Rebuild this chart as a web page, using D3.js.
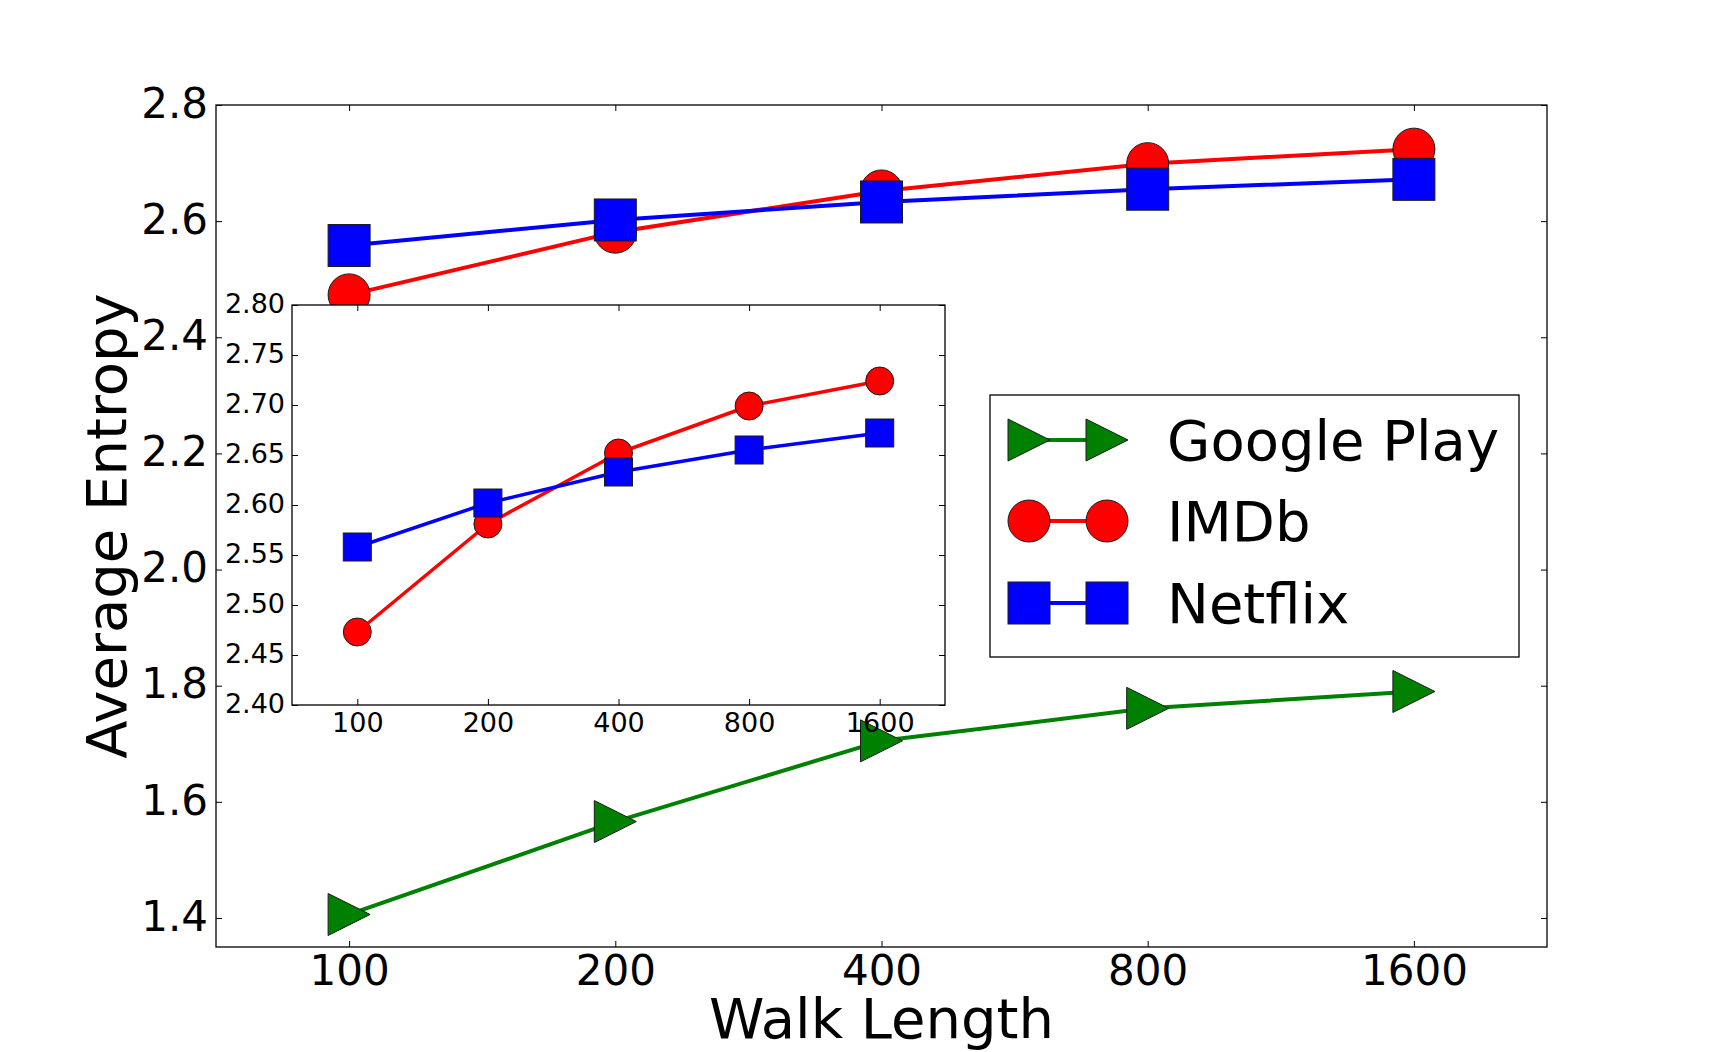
<!DOCTYPE html>
<html>
<head>
<meta charset="utf-8">
<script src="https://cdnjs.cloudflare.com/ajax/libs/d3/7.8.5/d3.min.js"></script>
<style>
  body { margin: 0; background: #fff; }
  svg text { font-family: "DejaVu Sans", sans-serif; fill: #000; }
</style>
</head>
<body>
<svg id="chart" width="1718" height="1052"></svg>
<script>
// data
const walkLengths = ["100", "200", "400", "800", "1600"];
const googlePlay = [1.406, 1.566, 1.705, 1.761, 1.790];
const imdb = [2.473, 2.581, 2.652, 2.699, 2.724];
const netflix = [2.558, 2.602, 2.633, 2.655, 2.672];

const mainTicks = [1.4, 1.6, 1.8, 2.0, 2.2, 2.4, 2.6, 2.8];
const insetTicks = [2.40, 2.45, 2.50, 2.55, 2.60, 2.65, 2.70, 2.75, 2.80];

const series = [
    { name: "Google Play", values: googlePlay, color: "#008000", shape: "tri", inset: false },
    { name: "IMDb", values: imdb, color: "#ff0000", shape: "circle", inset: true },
    { name: "Netflix", values: netflix, color: "#0000ff", shape: "square", inset: true }
];

const svg = d3.select("#chart");

const mainBox = { left: 216, right: 1547, top: 105, bottom: 947 };
const insetBox = { left: 292, right: 945, top: 305, bottom: 705 };

const x = d3.scalePoint().domain(walkLengths).range([mainBox.left, mainBox.right]).padding(0.5);
const y = d3.scaleLinear().domain([1.35, 2.8]).range([mainBox.bottom, mainBox.top]);

const xi = d3.scalePoint().domain(walkLengths).range([insetBox.left, insetBox.right]).padding(0.5);
const yi = d3.scaleLinear().domain([2.40, 2.80]).range([insetBox.bottom, insetBox.top]);

function marker(g, shape, cx, cy, s, color) {
    let el;
    if (shape === "circle") {
        el = g.append("circle").attr("cx", cx).attr("cy", cy).attr("r", s / 2);
    } else if (shape === "square") {
        el = g.append("rect").attr("x", cx - s / 2).attr("y", cy - s / 2).attr("width", s).attr("height", s);
    } else {
        el = g.append("path").attr("d", `M${cx + s / 2},${cy}L${cx - s / 2},${cy - s / 2}L${cx - s / 2},${cy + s / 2}Z`);
    }
    el.attr("fill", color).attr("stroke", "#1a1a1a").attr("stroke-width", 1);
}

function drawSeries(g, list, xs, ys, size, lw) {
    const line = d3.line().x((d, i) => xs(walkLengths[i])).y(d => ys(d));
    for (const s of list) {
        g.append("path").attr("d", line(s.values)).attr("fill", "none")
            .attr("stroke", s.color).attr("stroke-width", lw).attr("stroke-linejoin", "round");
    }
    for (const s of list) {
        s.values.forEach((v, i) => marker(g, s.shape, xs(walkLengths[i]), ys(v), size, s.color));
    }
}

function frame(g, xs, ys, box, ticks, fmt, fs, padY, padX) {
    const style = sel => {
        sel.select(".domain").remove();
        sel.attr("font-family", null).attr("font-size", fs);
        sel.selectAll(".tick line").attr("stroke", "#000").attr("stroke-width", 1);
    };
    g.append("g").attr("transform", `translate(${box.left},0)`)
        .call(d3.axisLeft(ys).tickValues(ticks).tickFormat(fmt).tickSize(-6).tickPadding(padY))
        .call(style)
        .selectAll("text").attr("dy", "0.29em");
    g.append("g").attr("transform", `translate(${box.right},0)`)
        .call(d3.axisRight(ys).tickValues(ticks).tickFormat("").tickSize(-6))
        .call(style);
    g.append("g").attr("transform", `translate(0,${box.bottom})`)
        .call(d3.axisBottom(xs).tickSize(-6).tickPadding(padX))
        .call(style);
    g.append("g").attr("transform", `translate(0,${box.top})`)
        .call(d3.axisTop(xs).tickFormat("").tickSize(-6))
        .call(style);
    g.append("rect").attr("x", box.left).attr("y", box.top)
        .attr("width", box.right - box.left).attr("height", box.bottom - box.top)
        .attr("fill", "none").attr("stroke", "#000").attr("stroke-width", 1.3);
}

// main axes
const mainG = svg.append("g");
drawSeries(mainG, series, x, y, 42, 4);
frame(mainG, x, y, mainBox, mainTicks, d3.format(".1f"), 42, 8, 8);

// legend
const leg = svg.append("g");
leg.append("rect").attr("x", 990).attr("y", 395).attr("width", 529).attr("height", 262)
    .attr("fill", "#fff").attr("stroke", "#000").attr("stroke-width", 1.3);
const legRows = [440, 521, 603];
series.forEach((s, i) => {
    const cy = legRows[i];
    leg.append("line").attr("x1", 1029).attr("x2", 1107).attr("y1", cy).attr("y2", cy)
        .attr("stroke", s.color).attr("stroke-width", 4);
    marker(leg, s.shape, 1029, cy, 42, s.color);
    marker(leg, s.shape, 1107, cy, 42, s.color);
    leg.append("text").attr("x", 1167).attr("y", cy + 20).attr("font-size", 56).text(s.name);
});

// inset axes
const insetG = svg.append("g");
insetG.append("rect").attr("x", insetBox.left).attr("y", insetBox.top)
    .attr("width", insetBox.right - insetBox.left).attr("height", insetBox.bottom - insetBox.top)
    .attr("fill", "#fff");
drawSeries(insetG, series.filter(s => s.inset), xi, yi, 28, 3.5);
frame(insetG, xi, yi, insetBox, insetTicks, d3.format(".2f"), 27, 7, 8);

// axis titles
svg.append("text").attr("x", (mainBox.left + mainBox.right) / 2).attr("y", 1038)
    .attr("text-anchor", "middle").attr("font-size", 56).text("Walk Length");
svg.append("text").attr("transform", `translate(126,${(mainBox.top + mainBox.bottom) / 2}) rotate(-90)`)
    .attr("text-anchor", "middle").attr("font-size", 56).text("Average Entropy");
</script>
</body>
</html>
